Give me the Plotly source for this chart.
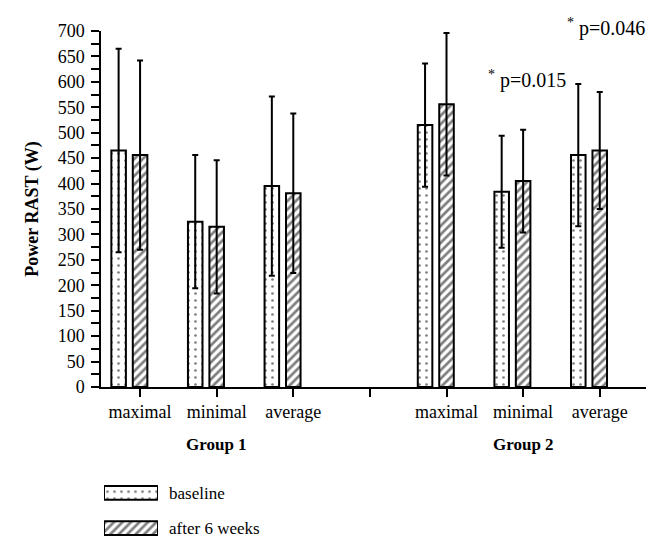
import plotly.graph_objects as go

# ---- data ----
categories = ["maximal", "minimal", "average"]
group_names = ["Group 1", "Group 2"]
tick_positions = [1, 2, 3, 5, 6, 7]
tick_labels = ["maximal", "minimal", "average", "maximal", "minimal", "average"]
gap_tick = [4]
cat_positions = [1, 2, 3, 5, 6, 7]
group_label_positions = [2, 6]

baseline_mean = [465, 325, 395, 515, 384, 456]
baseline_sd = [200, 131, 176, 121, 110, 140]
after_mean = [456, 315, 381, 556, 405, 465]
after_sd = [186, 131, 157, 140, 101, 115]

series_names = ["baseline", "after 6 weeks"]
annotations_text = ["<sup>*</sup> p=0.015", "<sup>*</sup> p=0.046"]
annotation_pos = [(6.05, 605), (7.08, 706)]

FONT = "Liberation Serif"
BAR_W = 0.19
OFFSET = 0.28
X_RANGE = [0.49, 7.63]

fig = go.Figure()

dot_pattern = dict(shape=".", fgcolor="black", bgcolor="white", size=7, solidity=0.12, fillmode="overlay")
hatch_pattern = dict(shape="/", fgcolor="black", bgcolor="white", size=6, solidity=0.45, fillmode="overlay")

fig.add_trace(go.Bar(
    x=[p - OFFSET for p in cat_positions], y=baseline_mean, width=BAR_W,
    name=series_names[0],
    marker=dict(color="white", line=dict(color="black", width=2), pattern=dot_pattern),
    error_y=dict(type="data", array=baseline_sd, color="black", thickness=2, width=3),
    showlegend=False, xaxis="x", yaxis="y",
))
fig.add_trace(go.Bar(
    x=cat_positions, y=after_mean, width=BAR_W,
    name=series_names[1],
    marker=dict(color="white", line=dict(color="black", width=2), pattern=hatch_pattern),
    error_y=dict(type="data", array=after_sd, color="black", thickness=2, width=3),
    showlegend=False, xaxis="x", yaxis="y",
))

# legend swatches drawn on a small helper axis
legend_levels = [1, 0]
for lvl, nm, pat in zip(legend_levels, series_names, [dot_pattern, hatch_pattern]):
    fig.add_trace(go.Bar(
        y=[lvl], x=[1], base=0, orientation="h", width=0.39,
        marker=dict(color="white", line=dict(color="black", width=2), pattern=pat),
        showlegend=False, xaxis="x2", yaxis="y2", cliponaxis=False, hoverinfo="skip",
    ))

# layout geometry: plot area y 23..543 (520 px), main axis bottom at 386 px
H_AREA = 520.0
main_bottom = (543 - 386) / H_AREA

annots = []
for (ax, ay), t in zip(annotation_pos, annotations_text):
    xp = (ax - X_RANGE[0]) / (X_RANGE[1] - X_RANGE[0])
    yp = main_bottom + (ay / 700.0) * (1 - main_bottom)
    annots.append(dict(x=xp, y=yp, xref="paper", yref="paper", text=t, showarrow=False,
                       font=dict(family=FONT, size=20, color="black"),
                       xanchor="center", yanchor="middle"))
for gx, gn in zip(group_label_positions, group_names):
    annots.append(dict(x=gx, y=(543 - 445) / H_AREA, xref="x", yref="paper",
                       text="<b>" + gn + "</b>", showarrow=False,
                       font=dict(family=FONT, size=17, color="black"),
                       xanchor="center", yanchor="middle"))

fig.update_layout(
    width=654, height=553,
    margin=dict(l=93, r=14, t=23, b=10),
    paper_bgcolor="white", plot_bgcolor="white",
    font=dict(family=FONT, size=17, color="black"),
    barmode="overlay",
    showlegend=False,
    xaxis=dict(
        domain=[0, 1], range=X_RANGE, anchor="y",
        tickmode="array", tickvals=tick_positions, ticktext=tick_labels,
        ticks="outside", ticklen=8, tickwidth=1.5, tickcolor="black",
        minor=dict(tickmode="array", tickvals=gap_tick, ticks="outside", ticklen=8,
                   tickwidth=1.5, tickcolor="black", showgrid=False),
        showline=True, linecolor="black", linewidth=1.5,
        showgrid=False, zeroline=False,
        tickfont=dict(family=FONT, size=18, color="black"),
    ),
    yaxis=dict(
        domain=[main_bottom, 1], range=[0, 700], anchor="x",
        dtick=50, tick0=0,
        ticks="outside", ticklen=8, tickwidth=1.5, tickcolor="black",
        minor=dict(dtick=25, ticks="outside", ticklen=8, tickwidth=1.5, tickcolor="black", showgrid=False),
        showline=True, linecolor="black", linewidth=1.5,
        showgrid=False, zeroline=False,
        ticklabelstandoff=3,
        tickfont=dict(family=FONT, size=18, color="black"),
        title=dict(text="<b>Power RAST (W)</b>", font=dict(family=FONT, size=18, color="black"), standoff=14),
    ),
    xaxis2=dict(
        domain=[(96 - 93) / 547, (150 - 93) / 547], range=[0, 1], anchor="y2",
        visible=False, fixedrange=True,
    ),
    yaxis2=dict(
        domain=[(543 - 540) / H_AREA, (543 - 482) / H_AREA], range=[-0.278, 1.333],
        anchor="x2", side="right",
        tickvals=legend_levels, ticktext=series_names,
        ticks="", showline=False, showgrid=False, zeroline=False,
        ticklabelstandoff=10,
        tickfont=dict(family=FONT, size=17, color="black"),
    ),
    annotations=annots,
)

fig.write_html("out.html")
